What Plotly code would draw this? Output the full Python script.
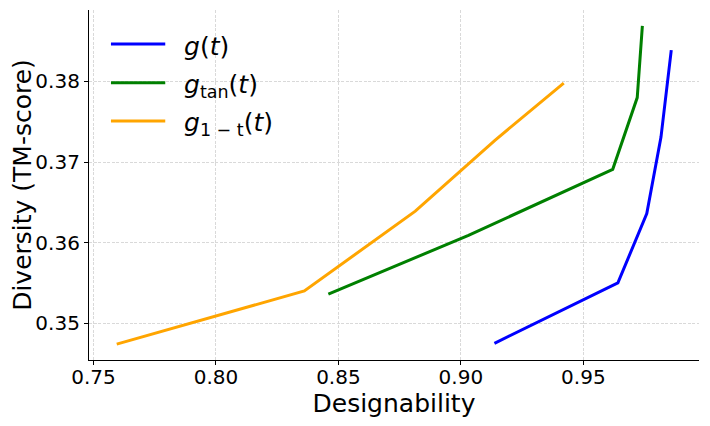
import plotly.graph_objects as go

# Designability vs diversity for the three schedules
names = ["<i>g</i>(<i>t</i>)",
         "<i>g</i><sub>tan</sub>(<i>t</i>)",
         "<i>g</i><sub>1 − t</sub>(<i>t</i>)"]
colors = ["blue", "green", "orange"]

g_x = [0.9137, 0.9641, 0.9759, 0.9817, 0.9859]
g_y = [0.3475, 0.3550, 0.3636, 0.3731, 0.3839]

tan_x = [0.8459, 0.9031, 0.9620, 0.9720, 0.9741]
tan_y = [0.3536, 0.3609, 0.3691, 0.3780, 0.3869]

omt_x = [0.7595, 0.8361, 0.8814, 0.9139, 0.9420]
omt_y = [0.3474, 0.3540, 0.3639, 0.3727, 0.3798]

x_ticks = [0.75, 0.80, 0.85, 0.90, 0.95]
y_ticks = [0.35, 0.36, 0.37, 0.38]

FONT = "DejaVu Sans"


def padded(vals, frac=0.05):
    lo, hi = min(vals), max(vals)
    pad = (hi - lo) * frac
    return [lo - pad, hi + pad]


fig = go.Figure()
series = [(g_x, g_y), (tan_x, tan_y), (omt_x, omt_y)]
for (xs, ys), name, col in zip(series, names, colors):
    fig.add_trace(go.Scatter(x=xs, y=ys, mode="lines", name=name,
                             line=dict(color=col, width=3),
                             showlegend=False))

# hand-made legend so the sample lines can be as long as the original
row_y = [0.903, 0.792, 0.683]
for name, col, ry in zip(names, colors, row_y):
    fig.add_shape(type="line", xref="paper", yref="paper",
                  x0=0.036, x1=0.125, y0=ry, y1=ry,
                  line=dict(color=col, width=3))
    fig.add_annotation(x=0.152, y=ry - 0.008, xref="paper", yref="paper",
                       text=name, showarrow=False, xanchor="left",
                       yanchor="middle", font=dict(size=25, color="black"))

axis_common = dict(
    showline=True, linecolor="black", linewidth=1.2,
    ticks="outside", ticklen=4, tickcolor="black", tickwidth=1.2,
    showgrid=True, gridcolor="#d9d9d9", gridwidth=0.8, griddash="3px,1.5px",
    zeroline=False, mirror=False,
    tickfont=dict(size=20, color="black"),
    title_font=dict(size=25, color="black"),
)

fig.update_xaxes(range=padded(g_x + tan_x + omt_x), tickvals=x_ticks,
                 tickformat=".2f", title_text="Designability",
                 ticklabelstandoff=-5, title_standoff=0, **axis_common)
fig.update_yaxes(range=padded(g_y + tan_y + omt_y), tickvals=y_ticks,
                 tickformat=".2f", title_text="Diversity (TM-score)",
                 title_standoff=4, **axis_common)

# the page body adds an 8px offset, so the margins are shifted by that much
fig.update_layout(
    width=710, height=426,
    margin=dict(l=81, r=19, t=2, b=74),
    paper_bgcolor="white", plot_bgcolor="white",
    font=dict(family=FONT, color="black"),
)

fig.write_html("out.html")
